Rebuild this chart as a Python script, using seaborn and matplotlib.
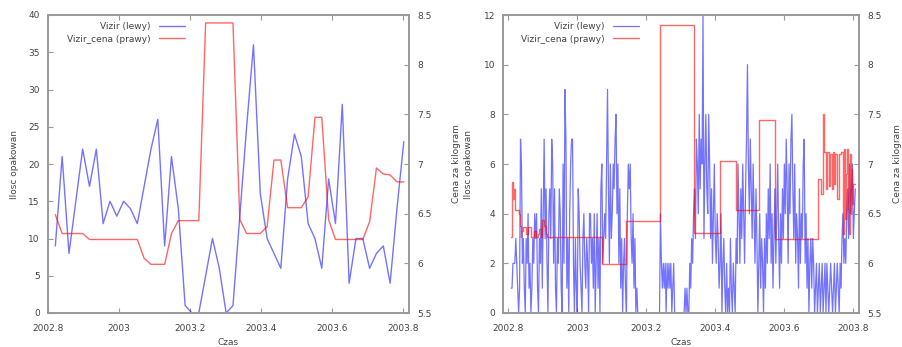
import numpy as np
import pandas as pd
import matplotlib
matplotlib.use("Agg")
import matplotlib.pyplot as plt
from matplotlib.ticker import FuncFormatter, MultipleLocator
import seaborn as sns

sns.set_style("white")
plt.rcParams["font.family"] = ["Liberation Sans Narrow", "DejaVu Sans"]

# ---------------- dane tygodniowe (lewy wykres) ----------------
tyg_start = 2002.8206
tyg_krok = 0.01923
vizir_tyg = [9, 21, 8, 15, 22, 17, 22, 12, 15, 13, 15, 14, 12, 17, 22, 26, 9, 21,
             14, 1, 0, 0, 5, 10, 6, 0, 1, 13, 25, 36, 16, 10, 8, 6, 18, 24, 21,
             12, 10, 6, 18, 12, 28, 4, 10, 10, 6, 8, 9, 4, 14, 23]
cena_tyg = [6.49, 6.30, 6.30, 6.30, 6.30, 6.24, 6.24, 6.24, 6.24, 6.24, 6.24,
            6.24, 6.24, 6.05, 5.99, 5.99, 5.99, 6.30, 6.43, 6.43, 6.43, 6.43,
            8.42, 8.42, 8.42, 8.42, 8.42, 6.44, 6.30, 6.30, 6.30, 6.37, 7.04,
            7.04, 6.56, 6.56, 6.56, 6.67, 7.47, 7.47, 6.44, 6.24, 6.24, 6.24,
            6.24, 6.24, 6.42, 6.96, 6.90, 6.89, 6.82, 6.82]

# ---------------- dane dzienne (prawy wykres) ----------------
dz_start = 2002.808
vizir_dz = [
    1, 1, 2, 2, 2, 3, 2, 1, 0, 1,
    7, 6, 2, 3, 1, 0, 3, 2, 4, 1,
    2, 0, 1, 3, 2, 4, 3, 4, 1, 0,
    3, 2, 5, 1, 4, 7, 3, 5, 2, 0,
    4, 5, 3, 7, 6, 2, 5, 1, 0, 3,
    2, 5, 4, 1, 0, 6, 2, 9, 7, 1,
    3, 0, 4, 6, 7, 7, 2, 0, 3, 1,
    0, 5, 4, 2, 1, 0, 3, 4, 2, 1,
    3, 2, 0, 4, 4, 2, 3, 1, 4, 0,
    2, 4, 1, 3, 0, 5, 6, 2, 3, 4,
    3, 6, 9, 5, 2, 6, 3, 4, 6, 5,
    7, 8, 4, 6, 2, 5, 1, 3, 0, 2,
    3, 1, 0, 4, 6, 5, 6, 3, 2, 4,
    1, 3, 0, 1, 0, 0, 0, 0, 0, 0,
    0, 0, 0, 0, 0, 0, 0, 0, 0, 0,
    0, 0, 0, 0, 0, 0, 0, 0,
    4, 2, 1, 2, 1, 2, 0, 2, 1, 2,
    1, 2, 0, 1, 2, 0, 0, 0, 0, 0,
    0, 0, 0, 0, 0, 0, 1, 0, 1, 0,
    0, 2, 1, 3, 2, 4, 5, 3, 7, 6,
    4, 8, 5, 7, 6, 12, 3, 6, 8, 5,
    4, 8, 6, 3, 5, 2, 4, 6, 3, 2,
    4, 3, 1, 2, 4, 0, 2, 3, 1, 0,
    2, 0, 1, 0, 3, 1, 0, 2, 1, 0,
    3, 2, 6, 4, 2, 5, 3, 6, 4, 2,
    5, 7, 10, 6, 4, 7, 5, 3, 6, 4,
    2, 5, 3, 0, 2, 4, 1, 3, 2, 0,
    3, 1, 4, 2, 5, 3, 6, 2, 4, 1,
    3, 5, 2, 4, 6, 3, 1, 4, 2, 5,
    3, 6, 4, 7, 5, 2, 6, 4, 7, 8,
    5, 3, 6, 2, 4, 3, 1, 5, 2, 4,
    3, 6, 7, 2, 4, 1, 3, 0, 2, 3,
    1, 3, 2, 0, 1, 2, 0, 1, 2, 0,
    1, 2, 0, 1, 2, 0, 2, 1, 0, 1,
    2, 1, 0, 1, 2, 0, 1, 2, 1, 0,
    2, 1, 3, 4, 2, 3, 2, 4, 5, 3,
    6, 4, 5, 6, 3, 4, 5,
]
# cena: dni zmiany ceny i nowa cena (schodki)
cena_dni = [0, 1, 2, 3, 4, 8, 9, 10, 11, 13, 16, 18, 21, 24, 26, 28, 30, 32,
            33, 35, 37, 38, 96, 122, 158, 193, 221, 238, 262, 279, 325, 328,
            330, 331, 333, 334, 336, 337, 339, 340, 342, 343, 345, 347, 349,
            351, 352, 353, 354, 355, 356, 357, 358, 359, 360, 361, 362, 364]
cena_dz = [6.27, 6.82, 6.65, 6.75, 6.54, 6.50, 6.38, 6.27, 6.33, 6.37, 6.30,
           6.37, 6.27, 6.33, 6.27, 6.30, 6.35, 6.27, 6.44, 6.38, 6.30, 6.27,
           5.99, 6.43, 8.40, 6.31, 7.03, 6.54, 7.44, 6.25, 6.85, 6.70, 7.50,
           7.12, 6.75, 7.12, 6.78, 7.10, 6.75, 7.12, 6.80, 7.10, 6.65, 7.10,
           7.12, 6.30, 7.15, 6.45, 6.90, 7.15, 6.55, 6.30, 7.10, 6.50, 6.95,
           6.60, 6.80, 6.80]

df_tyg = pd.DataFrame({"czas": tyg_start + tyg_krok * np.arange(len(vizir_tyg)),
                       "ilosc": vizir_tyg, "cena": cena_tyg})
df_dz = pd.DataFrame({"czas": dz_start + np.arange(len(vizir_dz)) / 365,
                      "ilosc": vizir_dz})
df_cena = pd.DataFrame({"czas": dz_start + np.array(cena_dni) / 365, "cena": cena_dz})

NIEB = (0.0, 0.0, 1.0, 0.55)
CZERW = (1.0, 0.0, 0.0, 0.6)
SZARY = "#999999"
TEKST = "#444444"
FS = 6.5

fig = plt.figure(figsize=(9.03, 3.47), dpi=100)
ax1 = fig.add_axes([48 / 903, 34 / 347, 361 / 903, 298 / 347])
ax3 = fig.add_axes([503.3 / 903, 34 / 347, 356 / 903, 298 / 347])


def styl(ax, ax2, xlim, ylim, ystep, ylab_x, y2lab_x):
    ax.set_xlim(*xlim)
    ax.set_ylim(*ylim)
    ax2.set_ylim(5.5, 8.5)
    ax.xaxis.set_major_locator(MultipleLocator(0.2))
    ax.yaxis.set_major_locator(MultipleLocator(ystep))
    ax2.yaxis.set_major_locator(MultipleLocator(0.5))
    fmt = FuncFormatter(lambda v, p: "%g" % round(v, 4))
    ax.xaxis.set_major_formatter(fmt)
    ax.yaxis.set_major_formatter(fmt)
    ax2.yaxis.set_major_formatter(fmt)
    for a in (ax, ax2):
        for s in a.spines.values():
            s.set_color(SZARY)
            s.set_linewidth(1.2)
        a.tick_params(direction="in", length=3.5, width=0.8, color=SZARY,
                      labelsize=FS, labelcolor=TEKST, pad=6)
    ax.tick_params(axis="x", top=True, bottom=True, pad=8)
    ax.tick_params(axis="y", left=True, right=False)
    ax2.tick_params(axis="y", right=True, left=False)
    ax.set_xlabel("Czas", fontsize=FS, color=TEKST)
    ax.set_ylabel("Ilosc opakowan", fontsize=FS, color=TEKST)
    ax2.set_ylabel("Cena za kilogram", fontsize=FS, color=TEKST)
    ax.xaxis.set_label_coords(0.5, -0.085)
    ax.yaxis.set_label_coords(ylab_x, 0.5)
    ax2.yaxis.set_label_coords(y2lab_x, 0.5)


# lewy wykres - dane tygodniowe
ax2 = ax1.twinx()
sns.lineplot(data=df_tyg, x="czas", y="ilosc", ax=ax1, color=NIEB, lw=1.0,
             estimator=None, label="Vizir (lewy)", legend=False)
sns.lineplot(data=df_tyg, x="czas", y="cena", ax=ax2, color=CZERW, lw=1.0,
             estimator=None, label="Vizir_cena (prawy)", legend=False)
styl(ax1, ax2, (2002.8, 2003.816), (0, 40), 5, -0.080, 1.118)

# prawy wykres - dane dzienne
ax4 = ax3.twinx()
sns.lineplot(data=df_dz, x="czas", y="ilosc", ax=ax3, color=NIEB, lw=0.9,
             estimator=None, label="Vizir (lewy)", legend=False)
sns.lineplot(data=df_cena, x="czas", y="cena", ax=ax4, color=CZERW, lw=1.0,
             estimator=None, label="Vizir_cena (prawy)", legend=False,
             drawstyle="steps-post")
styl(ax3, ax4, (2002.7855, 2003.817), (0, 12), 2, -0.084, 1.094)

for a, b, xr in ((ax1, ax2, 0.392), (ax3, ax4, 0.394)):
    h = a.get_lines()[:1] + b.get_lines()[:1]
    leg = b.legend(h, [l.get_label() for l in h], loc="upper right",
                   bbox_to_anchor=(xr, 0.99), frameon=False, markerfirst=False,
                   fontsize=FS, handlelength=2.9, handletextpad=0.9,
                   borderpad=0, labelspacing=0.35)
    for t in leg.get_texts():
        t.set_color(TEKST)

fig.savefig("out.png", dpi=100, facecolor="white")
